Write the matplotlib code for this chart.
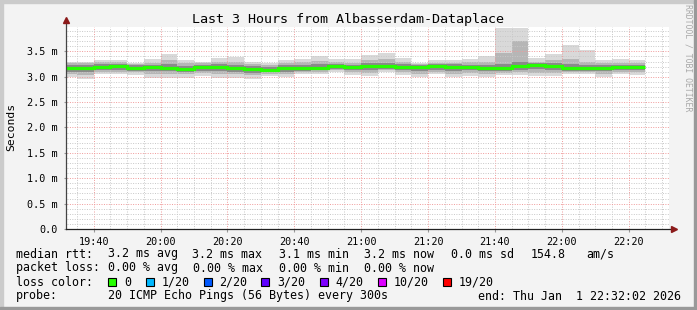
import matplotlib
matplotlib.use("Agg")
import matplotlib.pyplot as plt
from matplotlib.lines import Line2D
from matplotlib.patches import Rectangle
from matplotlib.ticker import MultipleLocator, FuncFormatter

# smokeping data, 5 minute bins, values in ms
first_bin_end = "19:35"
bin_minutes = 5
end_time = "22:32:02"

median = [3.17, 3.17, 3.19, 3.21, 3.18, 3.19, 3.18, 3.16, 3.19, 3.20, 3.17, 3.15,
          3.14, 3.17, 3.17, 3.18, 3.21, 3.19, 3.22, 3.22, 3.20, 3.19, 3.21, 3.20,
          3.19, 3.18, 3.18, 3.21, 3.24, 3.21, 3.18, 3.17, 3.18, 3.19, 3.19]
ping_min = [2.99, 2.96, 3.05, 3.05, 3.04, 2.98, 2.98, 2.98, 3.01, 2.98, 2.97, 2.96,
            3.02, 2.99, 3.06, 3.06, 3.10, 3.04, 3.01, 3.09, 3.04, 2.99, 3.05, 2.99,
            3.02, 2.99, 3.04, 3.04, 3.01, 3.02, 3.05, 3.05, 2.99, 3.05, 3.04]
ping_max = [3.30, 3.30, 3.32, 3.32, 3.28, 3.34, 3.44, 3.32, 3.30, 3.37, 3.38, 3.30,
            3.27, 3.32, 3.34, 3.40, 3.34, 3.34, 3.42, 3.46, 3.36, 3.28, 3.32, 3.32,
            3.34, 3.40, 3.96, 3.96, 3.37, 3.44, 3.63, 3.52, 3.32, 3.34, 3.32]
# middle smoke layer
lo2 = [3.05, 3.04, 3.09, 3.10, 3.09, 3.06, 3.06, 3.05, 3.08, 3.06, 3.05, 3.03,
       3.06, 3.06, 3.10, 3.10, 3.13, 3.09, 3.08, 3.13, 3.09, 3.06, 3.10, 3.06,
       3.08, 3.06, 3.08, 3.09, 3.08, 3.08, 3.09, 3.09, 3.06, 3.09, 3.09]
hi2 = [3.27, 3.27, 3.29, 3.29, 3.26, 3.28, 3.33, 3.27, 3.27, 3.30, 3.29, 3.26,
       3.24, 3.28, 3.29, 3.31, 3.30, 3.28, 3.33, 3.34, 3.30, 3.26, 3.28, 3.28,
       3.29, 3.30, 3.47, 3.71, 3.30, 3.33, 3.34, 3.30, 3.27, 3.28, 3.27]
# inner smoke layer
lo3 = [3.10, 3.09, 3.13, 3.14, 3.12, 3.11, 3.11, 3.09, 3.12, 3.11, 3.10, 3.08,
       3.09, 3.10, 3.12, 3.13, 3.16, 3.13, 3.13, 3.16, 3.13, 3.11, 3.14, 3.12,
       3.13, 3.11, 3.12, 3.14, 3.15, 3.14, 3.12, 3.11, 3.12, 3.13, 3.13]
hi3 = [3.23, 3.23, 3.25, 3.26, 3.23, 3.24, 3.25, 3.22, 3.24, 3.26, 3.23, 3.21,
       3.20, 3.23, 3.23, 3.25, 3.26, 3.24, 3.28, 3.28, 3.25, 3.24, 3.25, 3.25,
       3.24, 3.24, 3.25, 3.30, 3.28, 3.27, 3.25, 3.23, 3.23, 3.24, 3.24]

loss_labels = ["0", "1/20", "2/20", "3/20", "4/20", "10/20", "19/20"]
loss_colors = ["#26ff00", "#00b8ff", "#0059ff", "#5e00ff", "#7e00ff", "#dd00ff", "#ff0000"]

W, H = 697, 310
MONO = "DejaVu Sans Mono"


def fx(x):
    return x / W


def fy(y):
    return 1 - y / H


def to_min(s):
    parts = [int(p) for p in s.split(":")]
    return parts[0] * 60 + parts[1] + (parts[2] / 60 if len(parts) > 2 else 0)


t_end = to_min(end_time)
t_start = t_end - 180
first_end = to_min(first_bin_end)
edges = [first_end - bin_minutes + i * bin_minutes for i in range(len(median) + 1)]

fig = plt.figure(figsize=(W / 100, H / 100), dpi=100, facecolor="#f3f3f3")

# frame like rrdtool's shade
fig.patches.append(Rectangle((0, fy(3)), 1, 3 / H, transform=fig.transFigure, color="#cbcbcb"))
fig.patches.append(Rectangle((0, 0), 3 / W, 1, transform=fig.transFigure, color="#cbcbcb"))
fig.patches.append(Rectangle((0, 0), 1, 3 / H, transform=fig.transFigure, color="#999999"))
fig.patches.append(Rectangle((fx(694), 0), 3 / W, 1, transform=fig.transFigure, color="#999999"))

ax = fig.add_axes([fx(67), fy(229), (669 - 67) / W, (229 - 27) / H])
ax.set_facecolor("white")

# smoke
ax.stairs(ping_max, edges, baseline=ping_min, fill=True, color="#d9d9d9", zorder=1)
ax.stairs(hi2, edges, baseline=lo2, fill=True, color="#b6b6b6", zorder=2)
ax.stairs(hi3, edges, baseline=lo3, fill=True, color="#8a8a8a", zorder=3)
# median
ax.stairs(median, edges, baseline=None, color=loss_colors[0], linewidth=2.3, zorder=5)

ax.set_xlim(t_start, t_end)
ax.set_ylim(0, 3.98)

ax.xaxis.set_major_locator(MultipleLocator(20))
ax.xaxis.set_minor_locator(MultipleLocator(5))
ax.yaxis.set_major_locator(MultipleLocator(0.5))
ax.yaxis.set_minor_locator(MultipleLocator(0.1))
ax.xaxis.set_major_formatter(FuncFormatter(lambda v, p: "%02d:%02d" % (int(round(v)) // 60, int(round(v)) % 60)))
ax.yaxis.set_major_formatter(FuncFormatter(lambda v, p: "0.0" if abs(v) < 1e-9 else "%.1f m" % v))

ax.grid(which="minor", color="#c8c8c8", linestyle=(0, (1, 1.5)), linewidth=0.7, zorder=6)
ax.grid(which="major", color="#f09a9a", linestyle=(0, (1, 1.5)), linewidth=0.7, zorder=7)
ax.set_axisbelow(False)

for s in ax.spines.values():
    s.set_visible(False)
ax.tick_params(which="major", length=2, color="#999999", labelsize=7.3, pad=4)
ax.tick_params(which="minor", length=0)
ax.tick_params(axis="y", pad=5)
for lab in ax.get_xticklabels() + ax.get_yticklabels():
    lab.set_family(MONO)

# axes lines with arrows
fig.add_artist(Line2D([fx(66), fx(66)], [fy(229), fy(22)], color="#444444", lw=0.9))
fig.add_artist(Line2D([fx(66), fx(672)], [fy(229), fy(229)], color="#222222", lw=0.9))
fig.add_artist(Line2D([fx(66)], [fy(20)], marker="^", markersize=4.5, color="#8b1a1a", lw=0))
fig.add_artist(Line2D([fx(674)], [fy(229)], marker=">", markersize=4.5, color="#8b1a1a", lw=0))

fig.text(fx(348), fy(19), "Last 3 Hours from Albasserdam-Dataplace", ha="center", va="center",
         fontsize=9.6, family=MONO)
fig.text(fx(11), fy(127), "Seconds", rotation=90, ha="center", va="center", fontsize=8.2, family=MONO)
fig.text(fx(688), fy(4), "RRDTOOL / TOBI OETIKER", rotation=270, ha="center", va="top",
         fontsize=5.9, family=MONO, color="#a8a8a8")

fs = 8.4
row1 = [(16, "median rtt:"), (107.6, "3.2 ms avg"), (192.4, "3.2 ms max"), (279, "3.1 ms min"),
        (364.4, "3.2 ms now"), (451, "0.0 ms sd"), (531, "154.8"), (586, "am/s")]
row2 = [(16, "packet loss:"), (107.6, "0.00 % avg"), (192.9, "0.00 % max"), (279, "0.00 % min"),
        (364.4, "0.00 % now")]
for x, t in row1:
    fig.text(fx(x), fy(254), t, ha="left", va="center", fontsize=fs, family=MONO)
for x, t in row2:
    fig.text(fx(x), fy(268), t, ha="left", va="center", fontsize=fs, family=MONO)

fig.text(fx(16), fy(282), "loss color:", ha="left", va="center", fontsize=fs, family=MONO)
box_x = [108.4, 145.8, 203.6, 261.3, 320, 377.8, 442.7]
for bx, lab, col in zip(box_x, loss_labels, loss_colors):
    fig.patches.append(Rectangle((fx(bx), fy(286)), 8 / W, 8 / H, transform=fig.transFigure,
                                 facecolor=col, edgecolor="black", linewidth=0.8))
    fig.text(fx(bx + 15.5), fy(282), lab, ha="left", va="center", fontsize=fs, family=MONO)

fig.text(fx(16), fy(296), "probe:", ha="left", va="center", fontsize=fs, family=MONO)
fig.text(fx(107.6), fy(296), "20 ICMP Echo Pings (56 Bytes) every 300s", ha="left", va="center",
         fontsize=fs, family=MONO)
fig.text(fx(681), fy(296), "end: Thu Jan  1 22:32:02 2026", ha="right", va="center",
         fontsize=fs, family=MONO)

fig.savefig("out.png", dpi=100, facecolor=fig.get_facecolor())
